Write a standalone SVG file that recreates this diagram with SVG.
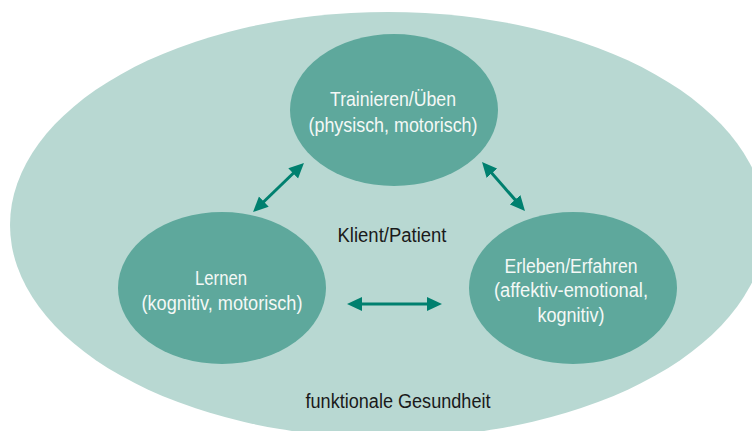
<svg xmlns="http://www.w3.org/2000/svg" width="752" height="431" viewBox="0 0 752 431">
<style>
.node{fill:#5ea89c}
.nt{font-family:"Liberation Sans",Arial,sans-serif;font-size:19.5px;fill:#f4f8f6;text-anchor:middle}
.bt{font-family:"Liberation Sans",Arial,sans-serif;font-size:19.5px;fill:#1a1a1a;text-anchor:middle}
.arr{stroke:#00806f;stroke-width:3;fill:none;marker-start:url(#ah);marker-end:url(#ah)}
</style>
<defs>
<marker id="ah" viewBox="0 -8 16 16" markerWidth="16" markerHeight="16" refX="7" refY="0" markerUnits="userSpaceOnUse" orient="auto-start-reverse">
<path d="M0,-7 L15,0 L0,7 z" fill="#00806f"/>
</marker>
</defs>
<rect width="752" height="431" fill="#ffffff"/>
<g id="funktionale-gesundheit">
<ellipse cx="388" cy="225" rx="378" ry="213" fill="#b8d8d2"/>
<text class="bt" x="398" y="408" textLength="185" lengthAdjust="spacingAndGlyphs">funktionale Gesundheit</text>
</g>
<g id="klient">
<text class="bt" x="392" y="242" textLength="109" lengthAdjust="spacingAndGlyphs">Klient/Patient</text>
</g>
<g id="trainieren">
<ellipse class="node" cx="394" cy="110" rx="104" ry="76"/>
<text class="nt" x="393" y="106" textLength="126" lengthAdjust="spacingAndGlyphs">Trainieren/Üben</text>
<text class="nt" x="393" y="132" textLength="169" lengthAdjust="spacingAndGlyphs">(physisch, motorisch)</text>
</g>
<g id="lernen">
<ellipse class="node" cx="222" cy="288" rx="104" ry="76"/>
<text class="nt" x="221" y="285" textLength="52" lengthAdjust="spacingAndGlyphs">Lernen</text>
<text class="nt" x="222" y="310" textLength="161" lengthAdjust="spacingAndGlyphs">(kognitiv, motorisch)</text>
</g>
<g id="erleben">
<ellipse class="node" cx="573" cy="288" rx="104" ry="76"/>
<text class="nt" x="571" y="273" textLength="133" lengthAdjust="spacingAndGlyphs">Erleben/Erfahren</text>
<text class="nt" x="571" y="297" textLength="154" lengthAdjust="spacingAndGlyphs">(affektiv-emotional,</text>
<text class="nt" x="571" y="322" textLength="67" lengthAdjust="spacingAndGlyphs">kognitiv)</text>
</g>
<g id="connectors">
<line class="arr" x1="258.8" y1="206.5" x2="298.2" y2="168.5"/>
<line class="arr" x1="487.3" y1="168" x2="519.7" y2="205"/>
<line class="arr" x1="355" y1="304" x2="434" y2="304"/>
</g>
</svg>
